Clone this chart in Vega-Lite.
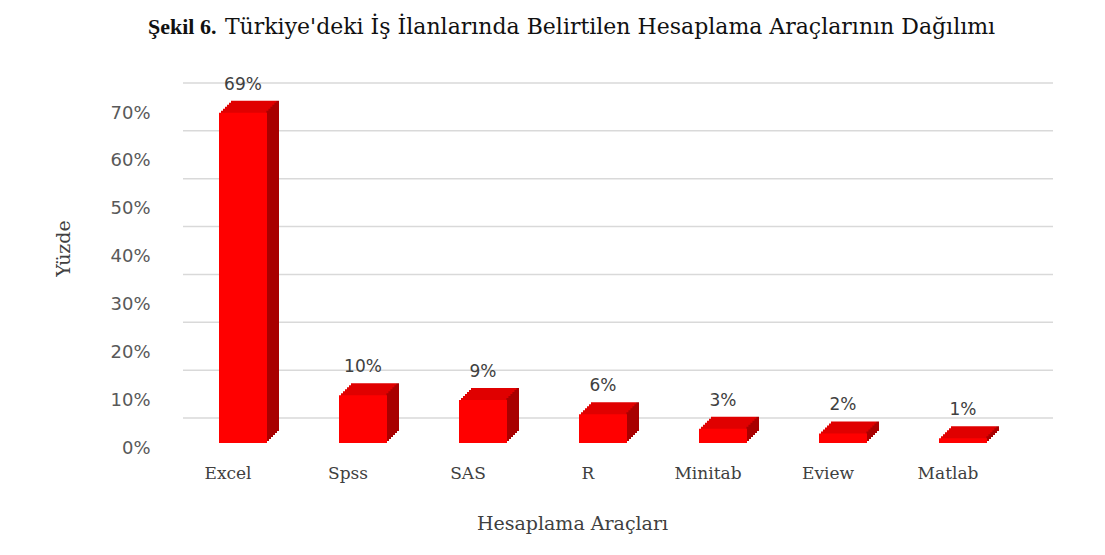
{
  "$schema": "https://vega.github.io/schema/vega-lite/v6.json",
  "width": 840,
  "height": 335,
  "autosize": {"type": "none"},
  "padding": {"left": 183, "top": 108, "right": 82, "bottom": 112},
  "background": "white",
  "config": {"view": {"stroke": null}},
  "title": {
    "text": "Şekil 6.",
    "subtitle": "\u200b\u00a0\u00a0\u00a0\u00a0\u00a0\u00a0\u00a0\u00a0\u00a0\u00a0\u00a0Türkiye'deki İş İlanlarında Belirtilen Hesaplama Araçlarının Dağılımı",
    "anchor": "start",
    "frame": "group",
    "dx": -35,
    "offset": 37,
    "font": "Liberation Serif",
    "fontSize": 22,
    "fontWeight": "bold",
    "color": "#111111",
    "subtitleFont": "DejaVu Serif",
    "subtitleFontSize": 22,
    "subtitleColor": "#111111",
    "subtitlePadding": -22
  },
  "layer": [
    {
      "data": {"values": [{"g": 0}, {"g": 0.1}, {"g": 0.2}, {"g": 0.3}, {"g": 0.4}, {"g": 0.5}, {"g": 0.6}, {"g": 0.7}]},
      "mark": {"type": "rule", "color": "#d9d9d9", "strokeWidth": 1.5, "xOffset": 30, "yOffset": -25},
      "encoding": {
        "y": {
          "field": "g", "type": "quantitative", "scale": {"domain": [0, 0.7]},
          "axis": {
            "orient": "left", "title": "Yüzde", "values": [0, 0.1, 0.2, 0.3, 0.4, 0.5, 0.6, 0.7], "format": ".0%",
            "labelFont": "DejaVu Sans", "labelFontSize": 18, "labelColor": "#595959",
            "labelPadding": 33, "labelOffset": 5, "ticks": false, "domain": false, "grid": false,
            "titleFont": "DejaVu Serif", "titleFontSize": 19, "titleFontWeight": "normal",
            "titleColor": "#404040", "titlePadding": 36, "titleY": 140, "zindex": 2
          }
        }
      }
    },
    {
      "data": {
        "values": [
          {"tool": "Excel", "pct": 0.69},
          {"tool": "Spss", "pct": 0.10},
          {"tool": "SAS", "pct": 0.09},
          {"tool": "R", "pct": 0.06},
          {"tool": "Minitab", "pct": 0.03},
          {"tool": "Eview", "pct": 0.02},
          {"tool": "Matlab", "pct": 0.01}
        ]
      },
      "encoding": {
        "x": {
          "field": "tool", "type": "nominal", "sort": null,
          "scale": {"paddingInner": 0.6, "paddingOuter": 0.3},
          "axis": {
            "title": "Hesaplama Araçları", "labelAngle": 0,
            "labelFont": "DejaVu Serif", "labelFontSize": 17, "labelColor": "#404040",
            "labelPadding": 22, "labelOffset": -15, "ticks": false, "domain": false,
            "titleFont": "DejaVu Serif", "titleFontSize": 19, "titleFontWeight": "normal",
            "titleColor": "#404040", "titleX": 389, "titleY": 80, "titleBaseline": "middle"
          }
        },
        "y": {
          "field": "pct", "type": "quantitative", "scale": {"domain": [0, 0.7]},
          "axis": {
            "orient": "left", "title": "Yüzde", "values": [0, 0.1, 0.2, 0.3, 0.4, 0.5, 0.6, 0.7], "format": ".0%",
            "labelFont": "DejaVu Sans", "labelFontSize": 18, "labelColor": "#595959",
            "labelPadding": 33, "labelOffset": 5, "ticks": false, "domain": false, "grid": false,
            "titleFont": "DejaVu Serif", "titleFontSize": 19, "titleFontWeight": "normal",
            "titleColor": "#404040", "titlePadding": 36, "titleY": 140, "zindex": 2
          }
        }
      },
      "layer": [
        {"mark": {"type": "bar", "xOffset": 12, "yOffset": -12, "fill": {"gradient": "linear", "x1": 0, "y1": 0, "x2": 1, "y2": 0, "stops": [{"offset": 0, "color": "#e00000"}, {"offset": 0.945, "color": "#e00000"}, {"offset": 0.95, "color": "#a80000"}, {"offset": 1, "color": "#a80000"}]}}},
        {"mark": {"type": "bar", "xOffset": 10, "yOffset": -10, "fill": {"gradient": "linear", "x1": 0, "y1": 0, "x2": 1, "y2": 0, "stops": [{"offset": 0, "color": "#e00000"}, {"offset": 0.945, "color": "#e00000"}, {"offset": 0.95, "color": "#a80000"}, {"offset": 1, "color": "#a80000"}]}}},
        {"mark": {"type": "bar", "xOffset": 8, "yOffset": -8, "fill": {"gradient": "linear", "x1": 0, "y1": 0, "x2": 1, "y2": 0, "stops": [{"offset": 0, "color": "#e00000"}, {"offset": 0.945, "color": "#e00000"}, {"offset": 0.95, "color": "#a80000"}, {"offset": 1, "color": "#a80000"}]}}},
        {"mark": {"type": "bar", "xOffset": 6, "yOffset": -6, "fill": {"gradient": "linear", "x1": 0, "y1": 0, "x2": 1, "y2": 0, "stops": [{"offset": 0, "color": "#e00000"}, {"offset": 0.945, "color": "#e00000"}, {"offset": 0.95, "color": "#a80000"}, {"offset": 1, "color": "#a80000"}]}}},
        {"mark": {"type": "bar", "xOffset": 4, "yOffset": -4, "fill": {"gradient": "linear", "x1": 0, "y1": 0, "x2": 1, "y2": 0, "stops": [{"offset": 0, "color": "#e00000"}, {"offset": 0.945, "color": "#e00000"}, {"offset": 0.95, "color": "#a80000"}, {"offset": 1, "color": "#a80000"}]}}},
        {"mark": {"type": "bar", "xOffset": 2, "yOffset": -2, "fill": {"gradient": "linear", "x1": 0, "y1": 0, "x2": 1, "y2": 0, "stops": [{"offset": 0, "color": "#e00000"}, {"offset": 0.945, "color": "#e00000"}, {"offset": 0.95, "color": "#a80000"}, {"offset": 1, "color": "#a80000"}]}}},
        {"mark": {"type": "bar", "fill": "#ff0000"}},
        {
          "mark": {"type": "text", "dy": -28, "baseline": "middle", "font": "DejaVu Sans", "fontSize": 17, "color": "#404040"},
          "encoding": {"text": {"field": "pct", "type": "quantitative", "format": ".0%"}}
        }
      ]
    }
  ]
}
